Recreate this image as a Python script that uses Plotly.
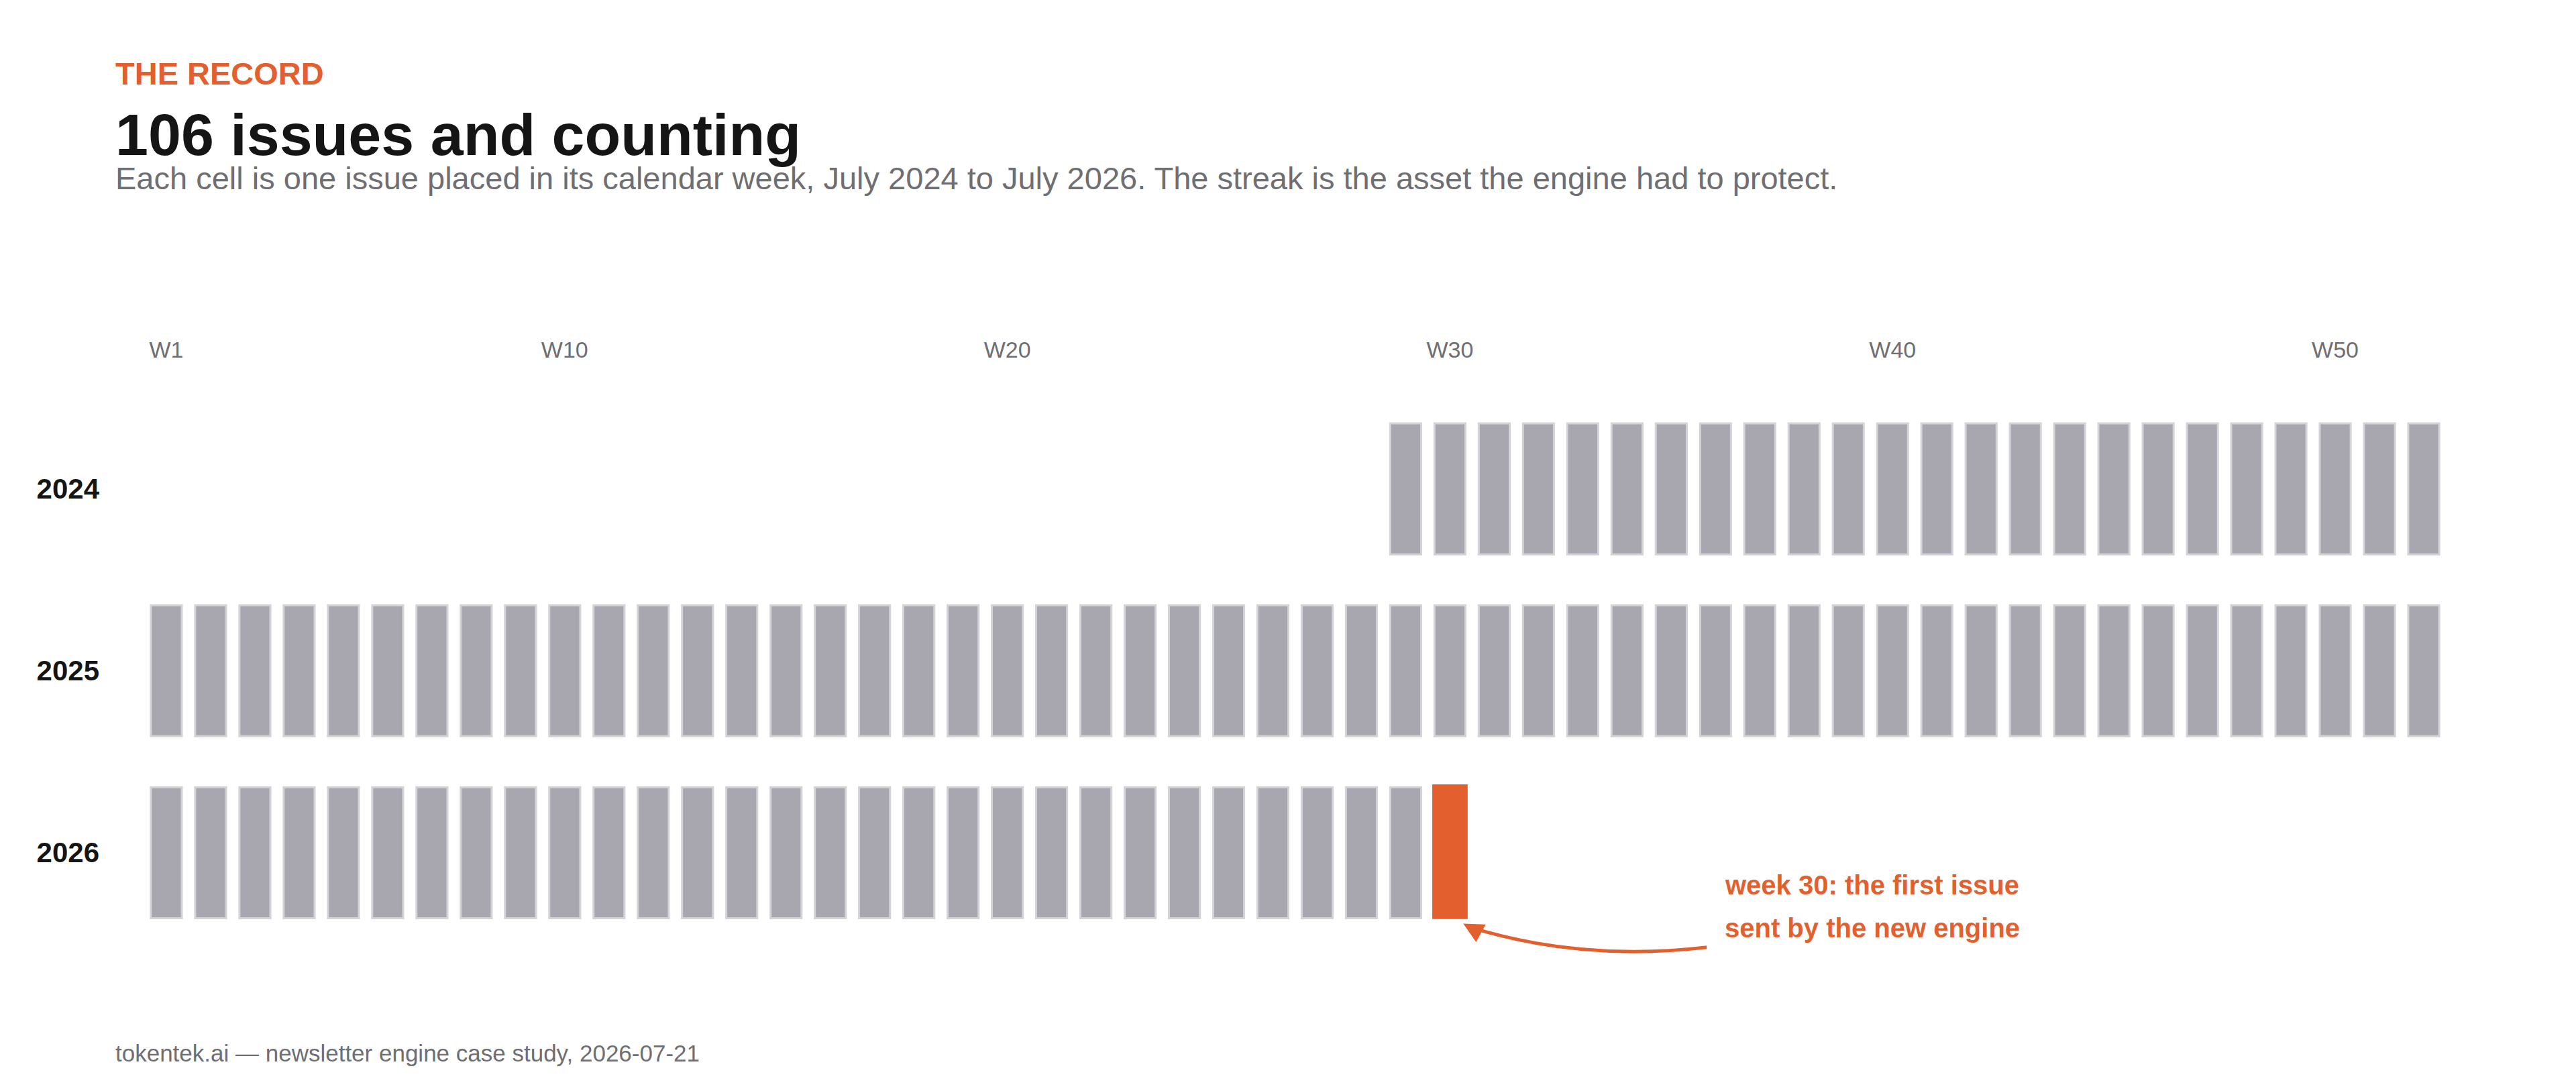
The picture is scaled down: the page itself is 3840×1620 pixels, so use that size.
import plotly.graph_objects as go

# issues per year, by ISO week number
years = ["2024", "2025", "2026"]
weeks_2024 = list(range(29, 53))
weeks_2025 = list(range(1, 53))
weeks_2026 = list(range(1, 30))
highlight_week = 30  # 2026, first issue from the new engine
week_ticks = [1, 10, 20, 30, 40, 50]

GREY = "#a8a7b0"
ORANGE = "#e35f2e"
FONT = "Liberation Sans"

W, H = 3840, 1620
L, R, T, B = 207, 202, 585, 181
PW, PH = W - L - R, H - T - B


def px(x):
    return (x - L) / PW


def py(y):
    return (H - B - y) / PH


fig = go.Figure()
for yr, wk in zip(years, [weeks_2024, weeks_2025, weeks_2026]):
    row = 2 - years.index(yr)
    fig.add_trace(go.Bar(
        x=wk, y=[0.72] * len(wk), base=[row - 0.36] * len(wk), width=0.7,
        marker=dict(color=GREY, line=dict(color="#d4d4d8", width=3)),
        hoverinfo="skip", showlegend=False))

fig.add_trace(go.Bar(
    x=[highlight_week], y=[0.74], base=[-0.365], width=0.8,
    marker=dict(color=ORANGE, line=dict(width=0)),
    hoverinfo="skip", showlegend=False))

# curved pointer from the note to the highlighted cell
fig.add_shape(type="path", path="M 35.8,-0.52 Q 33.0,-0.60 30.45,-0.41",
              line=dict(color=ORANGE, width=5), xref="x", yref="y")
fig.add_annotation(x=highlight_week + 0.3, y=-0.39, ax=22, ay=12, text="",
                   showarrow=True, arrowhead=2, arrowsize=1.2, arrowwidth=5,
                   arrowcolor=ORANGE, xref="x", yref="y")

texts = [
    (162, 101, "<b>THE RECORD</b>", 47, ORANGE),
    (162, 192, "<b>106 issues and counting</b>", 88, "#151515"),
    (162, 258, "Each cell is one issue placed in its calendar week, July 2024 to July 2026. "
               "The streak is the asset the engine had to protect.", 47, "#6e6e73"),
    (162, 1561, "tokentek.ai — newsletter engine case study, 2026-07-21", 35, "#6e6e73"),
    (2561, 1311, "<b>week 30: the first issue</b>", 40, ORANGE),
    (2561, 1375, "<b>sent by the new engine</b>", 40, ORANGE),
]
for x, y, t, s, c in texts:
    fig.add_annotation(x=px(x), y=py(y), xref="paper", yref="paper", text=t,
                       showarrow=False, xanchor="left", yanchor="middle",
                       font=dict(family=FONT, size=s, color=c))

fig.update_layout(
    width=W, height=H, margin=dict(l=L, r=R, t=T, b=B),
    plot_bgcolor="white", paper_bgcolor="white", barmode="overlay",
    font=dict(family=FONT),
    xaxis=dict(range=[0.5, 52.5], side="top", tickvals=week_ticks,
               ticktext=[f"W{w}" for w in week_ticks], showgrid=False,
               zeroline=False, showline=False, ticks="",
               tickfont=dict(size=34, color="#6e6e73"), ticklabelstandoff=52),
    yaxis=dict(range=[-0.65, 2.5], tickvals=[2, 1, 0],
               ticktext=[f"<b>{y}</b>" for y in years], showgrid=False,
               zeroline=False, showline=False, ticks="",
               tickfont=dict(size=42, color="#151515"), ticklabelstandoff=66),
)

fig.write_html("out.html")
